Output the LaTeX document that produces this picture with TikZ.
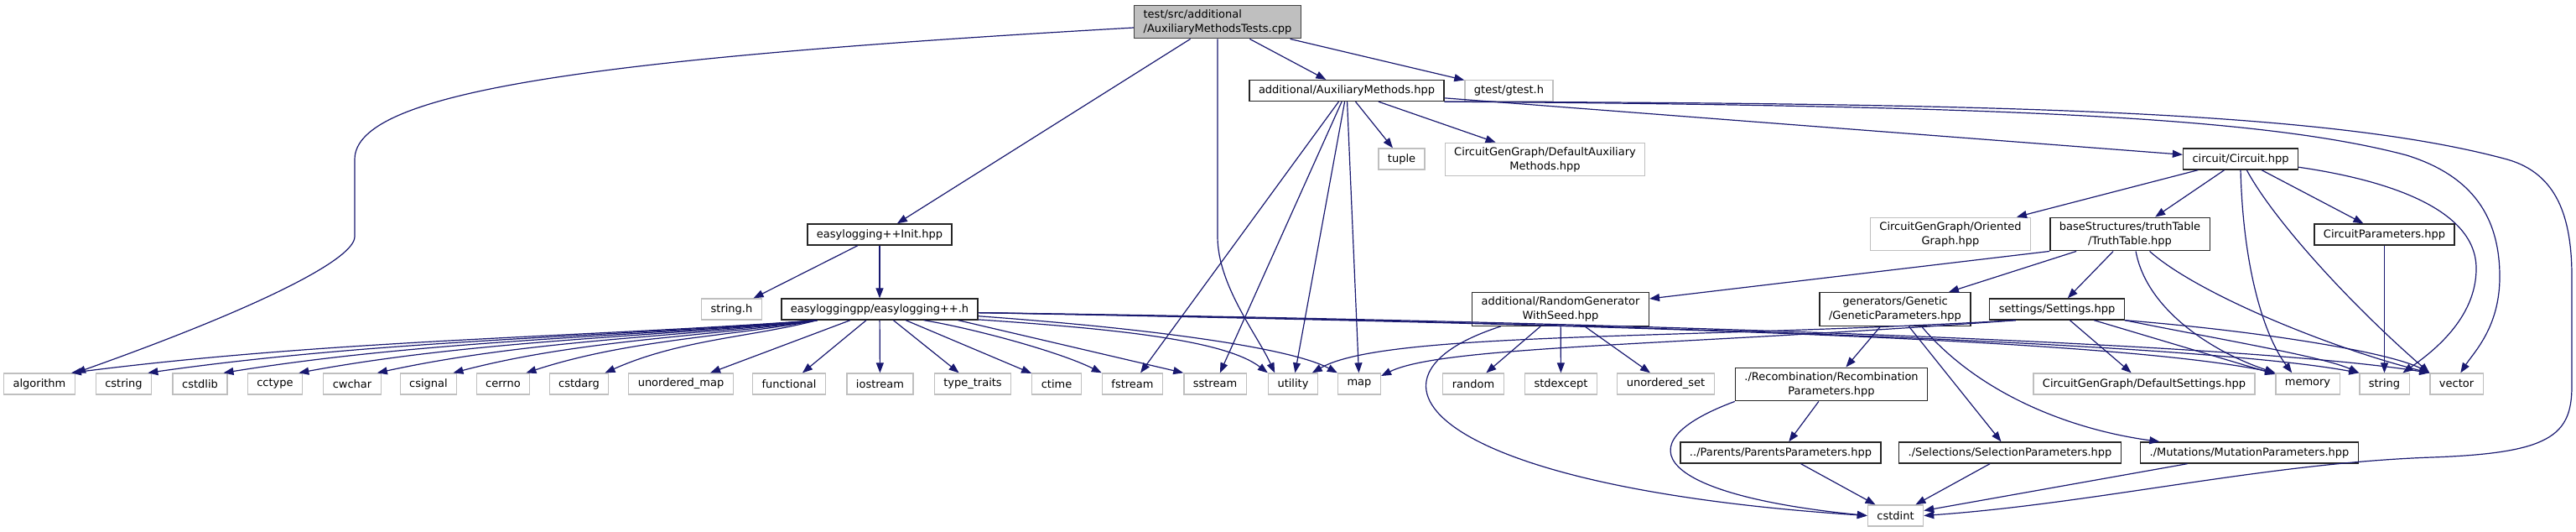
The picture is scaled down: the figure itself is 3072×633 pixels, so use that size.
\documentclass[tikz,border=0pt]{standalone}
\usepackage{fontspec}
\setmainfont{DejaVu Sans}
\usepackage{tikz}
\usetikzlibrary{arrows.meta, calc}
\usepackage{xcolor}
\definecolor{edgeblue}{HTML}{191970}
\definecolor{lightgrey}{HTML}{BFBFBF}

\begin{document}
\begin{tikzpicture}[x=1pt, y=-1pt,
  docnode/.style={rectangle, draw=black!85, fill=white, line width=1.3pt,
                  minimum height=25pt, inner xsep=11pt, inner ysep=3pt,
                  align=center, font=\fontsize{13}{17}\selectfont},
  sysnode/.style={docnode, draw=lightgrey},
  twoline/.style={inner ysep=5pt},
  topnode/.style={docnode, twoline, fill=lightgrey, draw=black!75, align=left},
  arr/.style={-{Triangle[length=12pt, width=9pt]}, line width=1.2pt, draw=edgeblue}
]
\useasboundingbox (0,0) rectangle (3072,633);

\node[topnode] (top) at (1452,26) {test/src/additional\\/AuxiliaryMethodsTests.cpp};
\node[docnode] (am) at (1606,108) {additional/AuxiliaryMethods.hpp};
\node[sysnode] (gtest) at (1799.5,108) {gtest/gtest.h};
\node[sysnode] (tuple) at (1671.5,189.5) {tuple};
\node[sysnode, twoline] (defaux) at (1842.5,190) {CircuitGenGraph/DefaultAuxiliary\\Methods.hpp};
\node[docnode] (circuit) at (2672,189.5) {circuit/Circuit.hpp};
\node[sysnode, twoline] (orgraph) at (2326,279) {CircuitGenGraph/Oriented\\Graph.hpp};
\node[docnode, twoline] (truth) at (2540,279) {baseStructures/truthTable\\/TruthTable.hpp};
\node[docnode] (cparams) at (2843.5,279.5) {CircuitParameters.hpp};
\node[docnode] (elinit) at (1049,279.5) {easylogging++Init.hpp};
\node[sysnode] (stringh) at (872.5,368.5) {string.h};
\node[docnode] (elog) at (1049,368.5) {easyloggingpp/easylogging++.h};
\node[docnode, twoline] (randgen) at (1861,368.5) {additional/RandomGenerator\\WithSeed.hpp};
\node[docnode, twoline] (genparams) at (2260,368.5) {generators/Genetic\\/GeneticParameters.hpp};
\node[docnode] (settings) at (2453,368.5) {settings/Settings.hpp};
\node[docnode, twoline] (recomb) at (2184,458) {./Recombination/Recombination\\Parameters.hpp};
\node[docnode] (parents) at (2123.5,539.5) {../Parents/ParentsParameters.hpp};
\node[docnode] (select) at (2397,539.5) {./Selections/SelectionParameters.hpp};
\node[docnode] (mutate) at (2682.5,539.5) {./Mutations/MutationParameters.hpp};
\node[sysnode] (cstdint) at (2260.5,614.5) {cstdint};
\node[sysnode] (defset) at (2557,457.5) {CircuitGenGraph/DefaultSettings.hpp};

\foreach \n/\x/\t in {algorithm/47/algorithm, cstring/147.5/cstring, cstdlib/238.5/cstdlib,
    cctype/328/cctype, cwchar/420/cwchar, csignal/511/csignal, cerrno/600/cerrno,
    cstdarg/690.5/cstdarg, umap/812/unordered\_map, functional/941/functional,
    iostream/1049.5/iostream, ttraits/1160/type\_traits, ctime/1260/ctime,
    fstream/1350.5/fstream, sstream/1449/sstream, utility/1542/utility, map/1621/map,
    random/1757/random, stdexcept/1861.5/stdexcept, uset/1986.5/unordered\_set,
    memory/2752/memory, string/2843.5/string, vector/2929.5/vector}
  \node[sysnode] (\n) at (\x,457.5) {\t};

\draw[arr] (top.184) .. controls (700,70) and (423,110) .. (423,190) -- (423,282)
  .. controls (423,310) and (300,370) .. (algorithm.north east);
\draw[arr] (top) -- (elinit);
\draw[arr] (top.south) -- (1452,282) .. controls (1452,340) and (1500,400) .. (utility.149);
\draw[arr] (top) -- (am);
\draw[arr] (top) -- (gtest);

\foreach \n in {fstream, sstream, utility, map, tuple, defaux, circuit}
  \draw[arr] (am) -- (\n);
\draw[arr] (am.south east) .. controls (2400,126) and (2700,140) .. (2870,185)
  .. controls (2950,210) and (2981,260) .. (2981,330)
  .. controls (2981,390) and (2950,420) .. (vector.70);
\draw[arr] (am.south east) .. controls (2400,123) and (2780,133) .. (2990,190)
  .. controls (3050,207) and (3067,260) .. (3067,330) -- (3067,460)
  .. controls (3067,520) and (3040,540) .. (2900,545)
  .. controls (2700,552) and (2500,600) .. (cstdint.east);

\foreach \n in {orgraph, truth, cparams}
  \draw[arr] (circuit) -- (\n);
\draw[arr] (circuit.south) .. controls (2675,320) and (2700,400) .. (memory.145);
\draw[arr] (circuit.-61) .. controls (2710,260) and (2800,360) .. (vector.north west);
\draw[arr] (circuit.-8) .. controls (2850,215) and (2953,250) .. (2953,320)
  .. controls (2953,380) and (2900,420) .. (string.31);
\draw[arr] (cparams) -- (string);

\draw[arr] (truth.south west) -- (randgen);
\draw[arr] (truth) -- (genparams);
\draw[arr] (truth) -- (settings);
\draw[arr] (truth.-71) .. controls (2560,370) and (2640,420) .. (memory.north west);
\draw[arr] (truth.-41) .. controls (2620,350) and (2780,415) .. (vector.north west);

\foreach \n in {random, stdexcept, uset}
  \draw[arr] (randgen) -- (\n);
\draw[arr] (randgen.196) .. controls (1600,450) and (1700,580) .. (cstdint.west);

\draw[arr] (genparams) -- (recomb);
\draw[arr] (genparams) -- (select);
\draw[arr] (genparams.-33) .. controls (2360,470) and (2470,512) .. (mutate.173);

\draw[arr] (settings.195) .. controls (2000,405) and (1650,395) .. (utility.30);
\draw[arr] (settings.195) .. controls (2000,412) and (1720,412) .. (map.20);
\draw[arr] (settings) -- (defset);
\draw[arr] (settings) -- (memory);
\draw[arr] (settings.south east) .. controls (2650,405) and (2770,425) .. (string.north west);
\draw[arr] (settings.south east) .. controls (2700,395) and (2850,420) .. (vector.north west);

\draw[arr] (recomb) -- (parents);
\draw[arr] (recomb.south west) .. controls (1930,530) and (1980,590) .. (cstdint.west);
\foreach \n in {parents, select, mutate}
  \draw[arr] (\n) -- (cstdint);

\draw[arr] (elinit) -- (stringh);
\draw[arr] (elinit) -- (elog);
\foreach \n/\a/\b in {algorithm/268/313, cstring/241/281, cstdlib/214/249, cctype/187/218,
    cwchar/159/185, csignal/131/153, cerrno/106/123, cstdarg/77/90}
  \draw[arr] (elog.190) .. controls +(-\a,20) and +(\b,-40) .. ($(\n.north east)+(-5,0)$);
\foreach \n in {umap, functional, iostream, ttraits, ctime}
  \draw[arr] (elog) -- (\n);
\draw[arr] (elog.-14) .. controls +(60,10) and +(-50,-25) .. (fstream.north west);
\draw[arr] (elog.-8.5) -- (sstream.north west);
\draw[arr] (elog.-6) .. controls (1330,392) and (1460,405) .. (utility.north west);
\draw[arr] (elog.-4) .. controls (1380,392) and (1540,415) .. (map.north west);
\draw[arr] (elog.-2) .. controls (1800,385) and (2500,400) .. (memory.north west);
\draw[arr] (elog.-2) .. controls (1800,383) and (2600,405) .. (string.north west);
\draw[arr] (elog.-2) .. controls (1800,381) and (2650,405) .. (vector.north west);
\end{tikzpicture}
\end{document}
